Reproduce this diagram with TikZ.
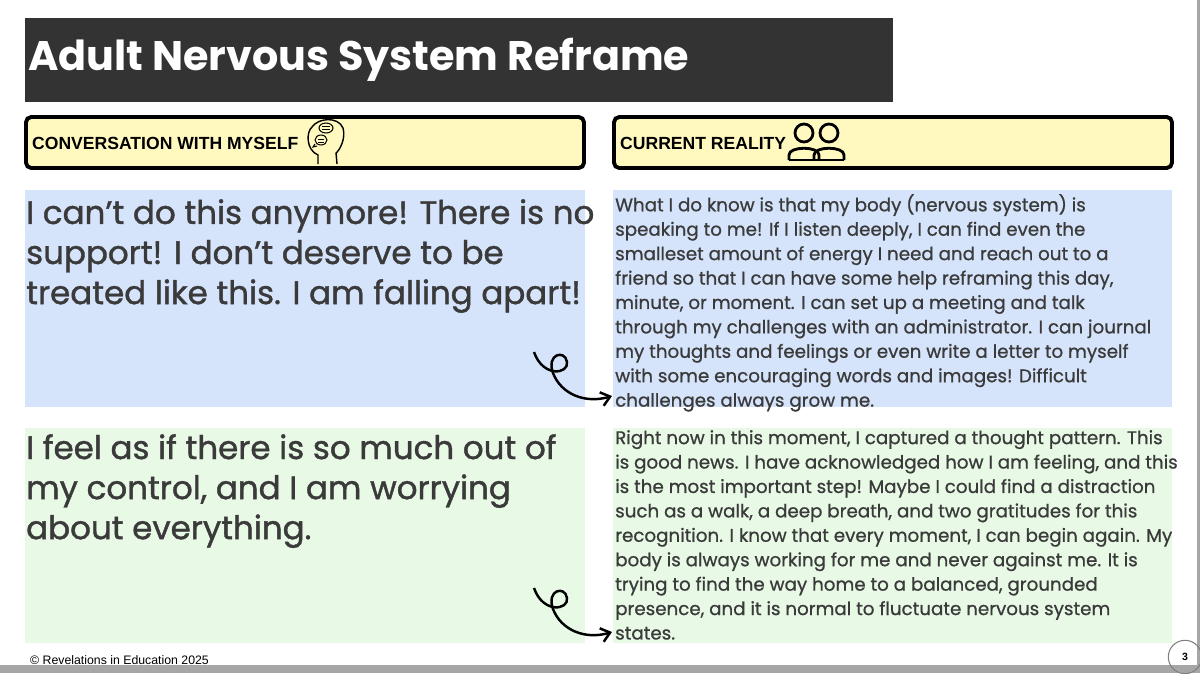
\documentclass[tikz,border=0pt]{standalone}
\usepackage{fontspec}
\setmainfont{Poppins}
\newfontfamily\hdfont{Liberation Sans}
\usetikzlibrary{arrows.meta}
\definecolor{dark}{HTML}{333333}
\definecolor{ink}{HTML}{3A3A3A}
\definecolor{yel}{HTML}{FFF8BF}
\definecolor{blu}{HTML}{D6E4FB}
\definecolor{grn}{HTML}{E8FAE6}
\tikzset{
  hdr/.style={draw=black,line width=2.2pt,rounded corners=3pt,fill=yel},
  big/.style={anchor=north west,align=left,text=ink,font=\fontsize{18.5}{22.8}\selectfont\addfontfeatures{FakeBold=1.2}},
  small/.style={anchor=north west,align=left,text=ink,font=\fontsize{10.4}{13.9}\selectfont\addfontfeatures{FakeBold=0.8}},
  curl/.style={line width=1.4pt,-{Straight Barb[length=5pt,width=8pt]}},
}
\begin{document}
\begin{tikzpicture}[x=0.02cm,y=-0.02cm]
\useasboundingbox (0,0) rectangle (1200,673);
\fill[white] (0,0) rectangle (1200,673);
\fill[gray!70] (0,665) rectangle (1200,673);
\fill[gray!70] (1197,0) rectangle (1200,673);
% title
\fill[dark] (25,18) rectangle (893,102);
\node[anchor=west,text=white,font=\fontsize{23.5}{26}\selectfont\bfseries] (title) at (22,60) {Adult Nervous System Reframe};
% headers
\draw[hdr] (26,117) rectangle (584,168);
\draw[hdr] (614,117) rectangle (1172,168);
\node[anchor=west,font=\hdfont\fontsize{10}{11}\selectfont\bfseries] (h1) at (26,143) {CONVERSATION WITH MYSELF};
\node[anchor=west,font=\hdfont\fontsize{10}{11}\selectfont\bfseries] (h2) at (614,143) {CURRENT REALITY};
% head icon
\draw[line width=0.8pt] (318,164) -- (318,155) .. controls (306,150) and (306,132) .. (312,127) .. controls (318,118) and (338,116) .. (343,128) .. controls (346,138) and (340,150) .. (336,153) -- (337,164);
\draw[line width=0.6pt] (317,146) -- (313,147) -- (315,144);
\draw[line width=0.6pt] (326,128) ellipse (7 and 5);
\draw[line width=0.6pt] (321,140) ellipse (6 and 5);
\draw[line width=0.5pt] (322,126)--(330,126) (322,129)--(330,129) (318,139)--(324,139) (318,142)--(324,142);
% people icon
\foreach \cx in {804,829}{
  \draw[line width=1.6pt] (\cx,133) circle (9);
  \draw[line width=1.6pt] (\cx-15,160) -- (\cx-15,155) .. controls (\cx-15,146) and (\cx+15,146) .. (\cx+15,155) -- (\cx+15,160);
}
\draw[line width=1.6pt] (789,160) -- (844,160);
% panels
\fill[blu] (25,190) rectangle (585,407);
\fill[blu] (613,190) rectangle (1172,407);
\fill[grn] (25,428) rectangle (585,643);
\fill[grn] (613,428) rectangle (1172,643);
\node[big] (t1) at (20,193) {I can't do this anymore! There is no\\support! I don't deserve to be\\treated like this. I am falling apart!};
\node[big] (t2) at (20,428) {I feel as if there is so much out of\\my control, and I am worrying\\about everything.};
\node[small] (r1) at (609,188) {What I do know is that my body (nervous system) is\\speaking to me! If I listen deeply, I can find even the\\smalleset amount of energy I need and reach out to a\\friend so that I can have some help reframing this day,\\minute, or moment. I can set up a meeting and talk\\through my challenges with an administrator. I can journal\\my thoughts and feelings or even write a letter to myself\\with some encouraging words and images! Difficult\\challenges always grow me.};
\node[small] (r2) at (609,424) {Right now in this moment, I captured a thought pattern. This\\is good news. I have acknowledged how I am feeling, and this\\is the most important step! Maybe I could find a distraction\\such as a walk, a deep breath, and two gratitudes for this\\recognition. I know that every moment, I can begin again. My\\body is always working for me and never against me. It is\\trying to find the way home to a balanced, grounded\\presence, and it is normal to fluctuate nervous system\\states.};
% curly arrows
\foreach \dy/\nm in {0/a,236/b}{
  \coordinate (s\nm) at (534,352+\dy);
  \coordinate (e\nm) at (612,396+\dy);
  \draw[curl] (s\nm) .. controls (543,378+\dy) and (569,374+\dy) .. (567,362+\dy) .. controls (565,349+\dy) and (546,354+\dy) .. (553,373+\dy) .. controls (561,394+\dy) and (585,404+\dy) .. (e\nm);
}
% footer
\node[anchor=west,font=\hdfont\fontsize{7}{8}\selectfont] (foot) at (24,660) {© Revelations in Education 2025};
\node[draw=gray,circle,line width=0.6pt,minimum size=19,inner sep=0,font=\hdfont\fontsize{6}{7}\selectfont\bfseries] (pg) at (1185,657) {3};
\end{tikzpicture}
\end{document}
